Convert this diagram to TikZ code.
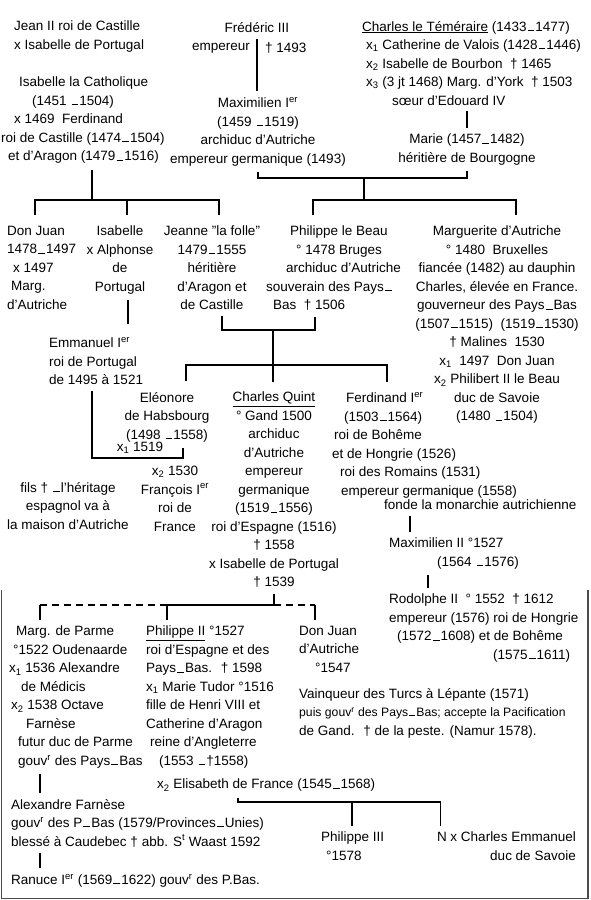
\documentclass[tikz,border=0pt]{standalone}
\usepackage{fontspec}
\setmainfont{Liberation Sans}
\newcommand\hw{\fontsize{13.5}{18.5}\selectfont}
\newcommand\tir{\kern.08em\rule[.12ex]{.5em}{.55pt}\kern.08em}
\tikzset{
  nom/.style={inner xsep=1pt, inner ysep=6pt, font=\hw, align=center},
  lien/.style={line width=1.2pt},
  pointille/.style={lien, dash pattern=on 7pt off 5pt},
}

\begin{document}
\begin{tikzpicture}[x=1pt, y=-1pt]
  \useasboundingbox (0,0) rectangle (590,900);

  % Scan edge
  \draw[line width=1.6pt, black!70] (1.5,590) -- (1.5,898.5) -- (588,898.5) -- (588,590);

  % Castille - Aragon
  \node[nom, anchor=north west, align=left] (jean) at (13,15) {Jean II roi de Castille\\x Isabelle de Portugal};
  \node[nom, anchor=north west, align=left] (isabelleC) at (0,71) {\hspace*{18pt}Isabelle la Catholique\\\hspace*{31pt}(1451 \tir 1504)\\\hspace*{13pt}x 1469 \ Ferdinand\\roi de Castille (1474\tir1504)\\\hspace*{7pt}et d'Aragon (1479\tir1516)};

  % Habsbourg
  \node[nom] (frederic) at (257,28) {Frédéric III};
  \node[nom, anchor=north east] (emp) at (251,37) {empereur};
  \node[nom, anchor=north west] (mort) at (264,37) {† 1493};
  \node[nom, anchor=north] (maximilien) at (258,91) {Maximilien I\textsuperscript{er}\\(1459 \tir 1519)\\archiduc d'Autriche\\empereur germanique (1493)};
  \draw[lien] (frederic.south) -- (frederic.south |- maximilien.north);

  % Bourgogne
  \node[nom, anchor=north west, align=left] (charlesT) at (361,15) {\underline{Charles le Téméraire} (1433\tir1477)\\\hspace*{4pt}x\textsubscript{1} Catherine de Valois (1428\tir1446)\\\hspace*{4pt}x\textsubscript{2} Isabelle de Bourbon \ † 1465\\\hspace*{4pt}x\textsubscript{3} (3 jt 1468) Marg. d'York \ † 1503\\\hspace*{30pt}sœur d'Edouard IV};
  \node[nom, anchor=north] (marie) at (467,128) {Marie (1457\tir1482)\\héritière de Bourgogne};
  \draw[lien] (marie.north) -- (marie.north |- charlesT.south);

  % Maximilien x Marie
  \coordinate (mm) at (364,178);
  \coordinate (pm) at (364,200);
  \draw[lien] (maximilien.south) |- (mm) -| (marie.south);
  \draw[lien] (mm) -- (pm);

  % Enfants des Rois Catholiques
  \coordinate (ci) at (92,200);
  \node[nom, anchor=north west, align=left] (donjuan) at (6,220) {Don Juan\\1478\tir1497\\\hspace*{6pt}x 1497\\\hspace*{4pt}Marg.\\d'Autriche};
  \node[nom, anchor=north] (isabelleP) at (120,220) {Isabelle\\x Alphonse\\de\\Portugal};
  \node[nom, anchor=north] (jeanne) at (212,220) {Jeanne "la folle"\\1479\tir1555\\héritière\\d'Aragon et\\de Castille};
  \draw[lien] (ci |- isabelleC.south) -- (ci);
  \draw[lien, shorten <=5pt, shorten >=5pt] ([xshift=29pt]donjuan.north west) |- (ci) -| ([xshift=7pt]jeanne.north);
  \draw[lien, shorten >=5pt] (ci) -| ([xshift=7pt]isabelleP.north);

  % Enfants de Maximilien et Marie
  \node[nom, anchor=north west, align=left] (philippe) at (265,220) {\hspace*{24pt}Philippe le Beau\\\hspace*{30pt}° 1478 Bruges\\\hspace*{20pt}archiduc d'Autriche\\souverain des Pays\tir\\\hspace*{7pt}Bas \ † 1506};
  \node[nom, anchor=north] (marguerite) at (497,220) {Marguerite d'Autriche\\° 1480 \ Bruxelles\\fiancée (1482) au dauphin\\Charles, élevée en France.\\gouverneur des Pays\tir Bas\\(1507\tir1515) \ (1519\tir1530)\\† Malines \ 1530\\x\textsubscript{1} \ 1497 \ Don Juan\\x\textsubscript{2} Philibert II le Beau\\duc de Savoie\\(1480 \tir 1504)};
  \draw[lien, shorten <=5pt, shorten >=5pt] ([xshift=48pt]philippe.north west) |- (pm) -| ([xshift=19pt]marguerite.north);

  % Portugal
  \node[nom, anchor=north west, align=left] (emmanuel) at (48,331) {Emmanuel I\textsuperscript{er}\\roi de Portugal\\de 1495 à 1521};
  \draw[lien, shorten >=7pt] ([xshift=8pt]isabelleP.south) -- ([xshift=8pt]isabelleP.south |- emmanuel.north);

  % Jeanne x Philippe
  \coordinate (jp) at (273,330);
  \coordinate (cq) at (273,365);
  \draw[lien] ([xshift=10pt]jeanne.south) |- (jp) -| ([xshift=50pt]philippe.south west);
  \draw[lien] (jp) -- (cq);

  % Enfants de Jeanne et Philippe
  \node[nom, anchor=north] (eleonore) at (167,386) {Eléonore\\de Habsbourg\\(1498 \tir 1558)};
  \node[nom, anchor=north] (charlesQ) at (274,386) {\underline{Charles Quint}\\° Gand 1500\\archiduc\\d'Autriche\\empereur\\germanique\\(1519\tir1556)\\roi d'Espagne (1516)\\† 1558\\x Isabelle de Portugal\\† 1539};
  \node[nom, anchor=north west, align=left] (ferdinand) at (331,386) {\hspace*{14pt}Ferdinand I\textsuperscript{er}\\\hspace*{12pt}(1503\tir1564)\\\hspace*{2pt}roi de Bohême\\et de Hongrie (1526)\\\hspace*{8pt}roi des Romains (1531)\\\hspace*{9pt}empereur germanique (1558)};
  \node[nom, anchor=north west] (fonde) at (383,494) {fonde la monarchie autrichienne};
  \draw[lien, shorten <=5pt, shorten >=4pt] ([xshift=19pt]eleonore.north) |- (cq) -| ([xshift=56pt]ferdinand.north west);
  \draw[lien, shorten >=4pt] (cq) -- (cq |- charlesQ.north);

  % Emmanuel x Eleonore
  \coordinate (em) at (92,458);
  \node[nom, anchor=south, inner ysep=1pt] (mar1) at (140,455) {x\textsubscript{1} 1519};
  \node[nom, anchor=north] (francois) at (175,460) {x\textsubscript{2} 1530\\François I\textsuperscript{er}\\roi de\\France};
  \node[nom, anchor=north] (fils) at (68,476) {fils † \tir l'héritage\\espagnol va à\\la maison d'Autriche};
  \draw[lien] ([xshift=44pt]emmanuel.south west) -- (em) -| ([xshift=16pt]eleonore.south);

  % Branche autrichienne
  \node[nom, anchor=north west, align=left] (maxII) at (388,532) {Maximilien II °1527\\\hspace*{48pt}(1564 \tir 1576)};
  \node[nom, anchor=north west, align=left] (rodolphe) at (388,588) {Rodolphe II \ ° 1552 \ † 1612\\empereur (1576) roi de Hongrie\\\hspace*{8pt}(1572\tir1608) et de Bohême\\\hspace*{104pt}(1575\tir1611)};
  \draw[lien] ([xshift=27pt]fonde.south west) -- ([xshift=27pt]fonde.south west |- maxII.north);
  \draw[lien] ([xshift=40pt]maxII.south west) -- ([xshift=40pt]maxII.south west |- rodolphe.north);

  % Enfants de Charles Quint
  \coordinate (dl) at (40,605);
  \coordinate (p2) at (167,605);
  \coordinate (cqd) at (274,605);
  \coordinate (dj) at (315,605);
  \draw[lien] (charlesQ.south) -- (cqd);
  \draw[lien] (p2) -- (cqd);
  \draw[pointille] (dl) -- (p2);
  \draw[pointille] (cqd) -- (dj);

  \node[nom, anchor=north west, align=left] (margP) at (8,620) {\hspace*{7pt}Marg. de Parme\\\hspace*{4pt}°1522 Oudenaarde\\x\textsubscript{1} 1536 Alexandre\\\hspace*{12pt}de Médicis\\\hspace*{2pt}x\textsubscript{2} 1538 Octave\\\hspace*{17pt}Farnèse\\\hspace*{9pt}futur duc de Parme\\\hspace*{9pt}gouv\textsuperscript{r} des Pays\tir Bas};
  \node[nom, anchor=north west, align=left] (philippe2) at (145,620) {\underline{Philippe II} °1527\\roi d'Espagne et des\\Pays\tir Bas. \ † 1598\\x\textsubscript{1} Marie Tudor °1516\\fille de Henri VIII et\\Catherine d'Aragon\\\hspace*{4pt}reine d'Angleterre\\\hspace*{13pt}(1553 \tir †1558)\\[5pt]\hspace*{11pt}x\textsubscript{2} Elisabeth de France (1545\tir1568)};
  \node[nom, anchor=north west, align=left] (donjuanA) at (298,620) {Don Juan\\d'Autriche\\\hspace*{16pt}°1547};
  \node[nom, anchor=north west, align=left] (vainqueur) at (298,682) {Vainqueur des Turcs à Lépante (1571)\\{\fontsize{12.2}{18.5}\selectfont puis gouv\textsuperscript{r} des Pays\tir Bas; accepte la Pacification}\\de Gand. \ † de la peste. (Namur 1578).};
  \draw[lien] (dl) -- (dl |- margP.north);
  \draw[lien] (p2) -- (p2 |- philippe2.north);
  \draw[lien] (dj) -- (dj |- donjuanA.north);

  % Farnese
  \node[nom, anchor=north west, align=left] (alexandre) at (10,793) {Alexandre Farnèse\\gouv\textsuperscript{r} des P\tir Bas (1579/Provinces\tir Unies)\\blessé à Caudebec † abb. S\textsuperscript{t} Waast 1592};
  \node[nom, anchor=north west, align=left] (ranuce) at (10,868) {Ranuce I\textsuperscript{er} (1569\tir1622) gouv\textsuperscript{r} des P.Bas.};
  \draw[lien] (dl |- margP.south) -- (dl |- alexandre.north);
  \draw[lien] (dl |- alexandre.south) -- (dl |- ranuce.north);

  % Enfants de Philippe II
  \coordinate (pe) at (238,802);
  \node[nom, anchor=north west, align=left] (philippe3) at (320,826) {Philippe III\\\hspace*{5pt}°1578};
  \node[nom, anchor=north east, align=right] (nCharles) at (577,826) {N x Charles Emmanuel\\duc de Savoie};
  \draw[lien] (pe |- philippe2.south) -- (pe) -| ([xshift=5pt]nCharles.north west);
  \draw[lien] (pe) -| ([xshift=32pt]philippe3.north west);
\end{tikzpicture}
\end{document}
